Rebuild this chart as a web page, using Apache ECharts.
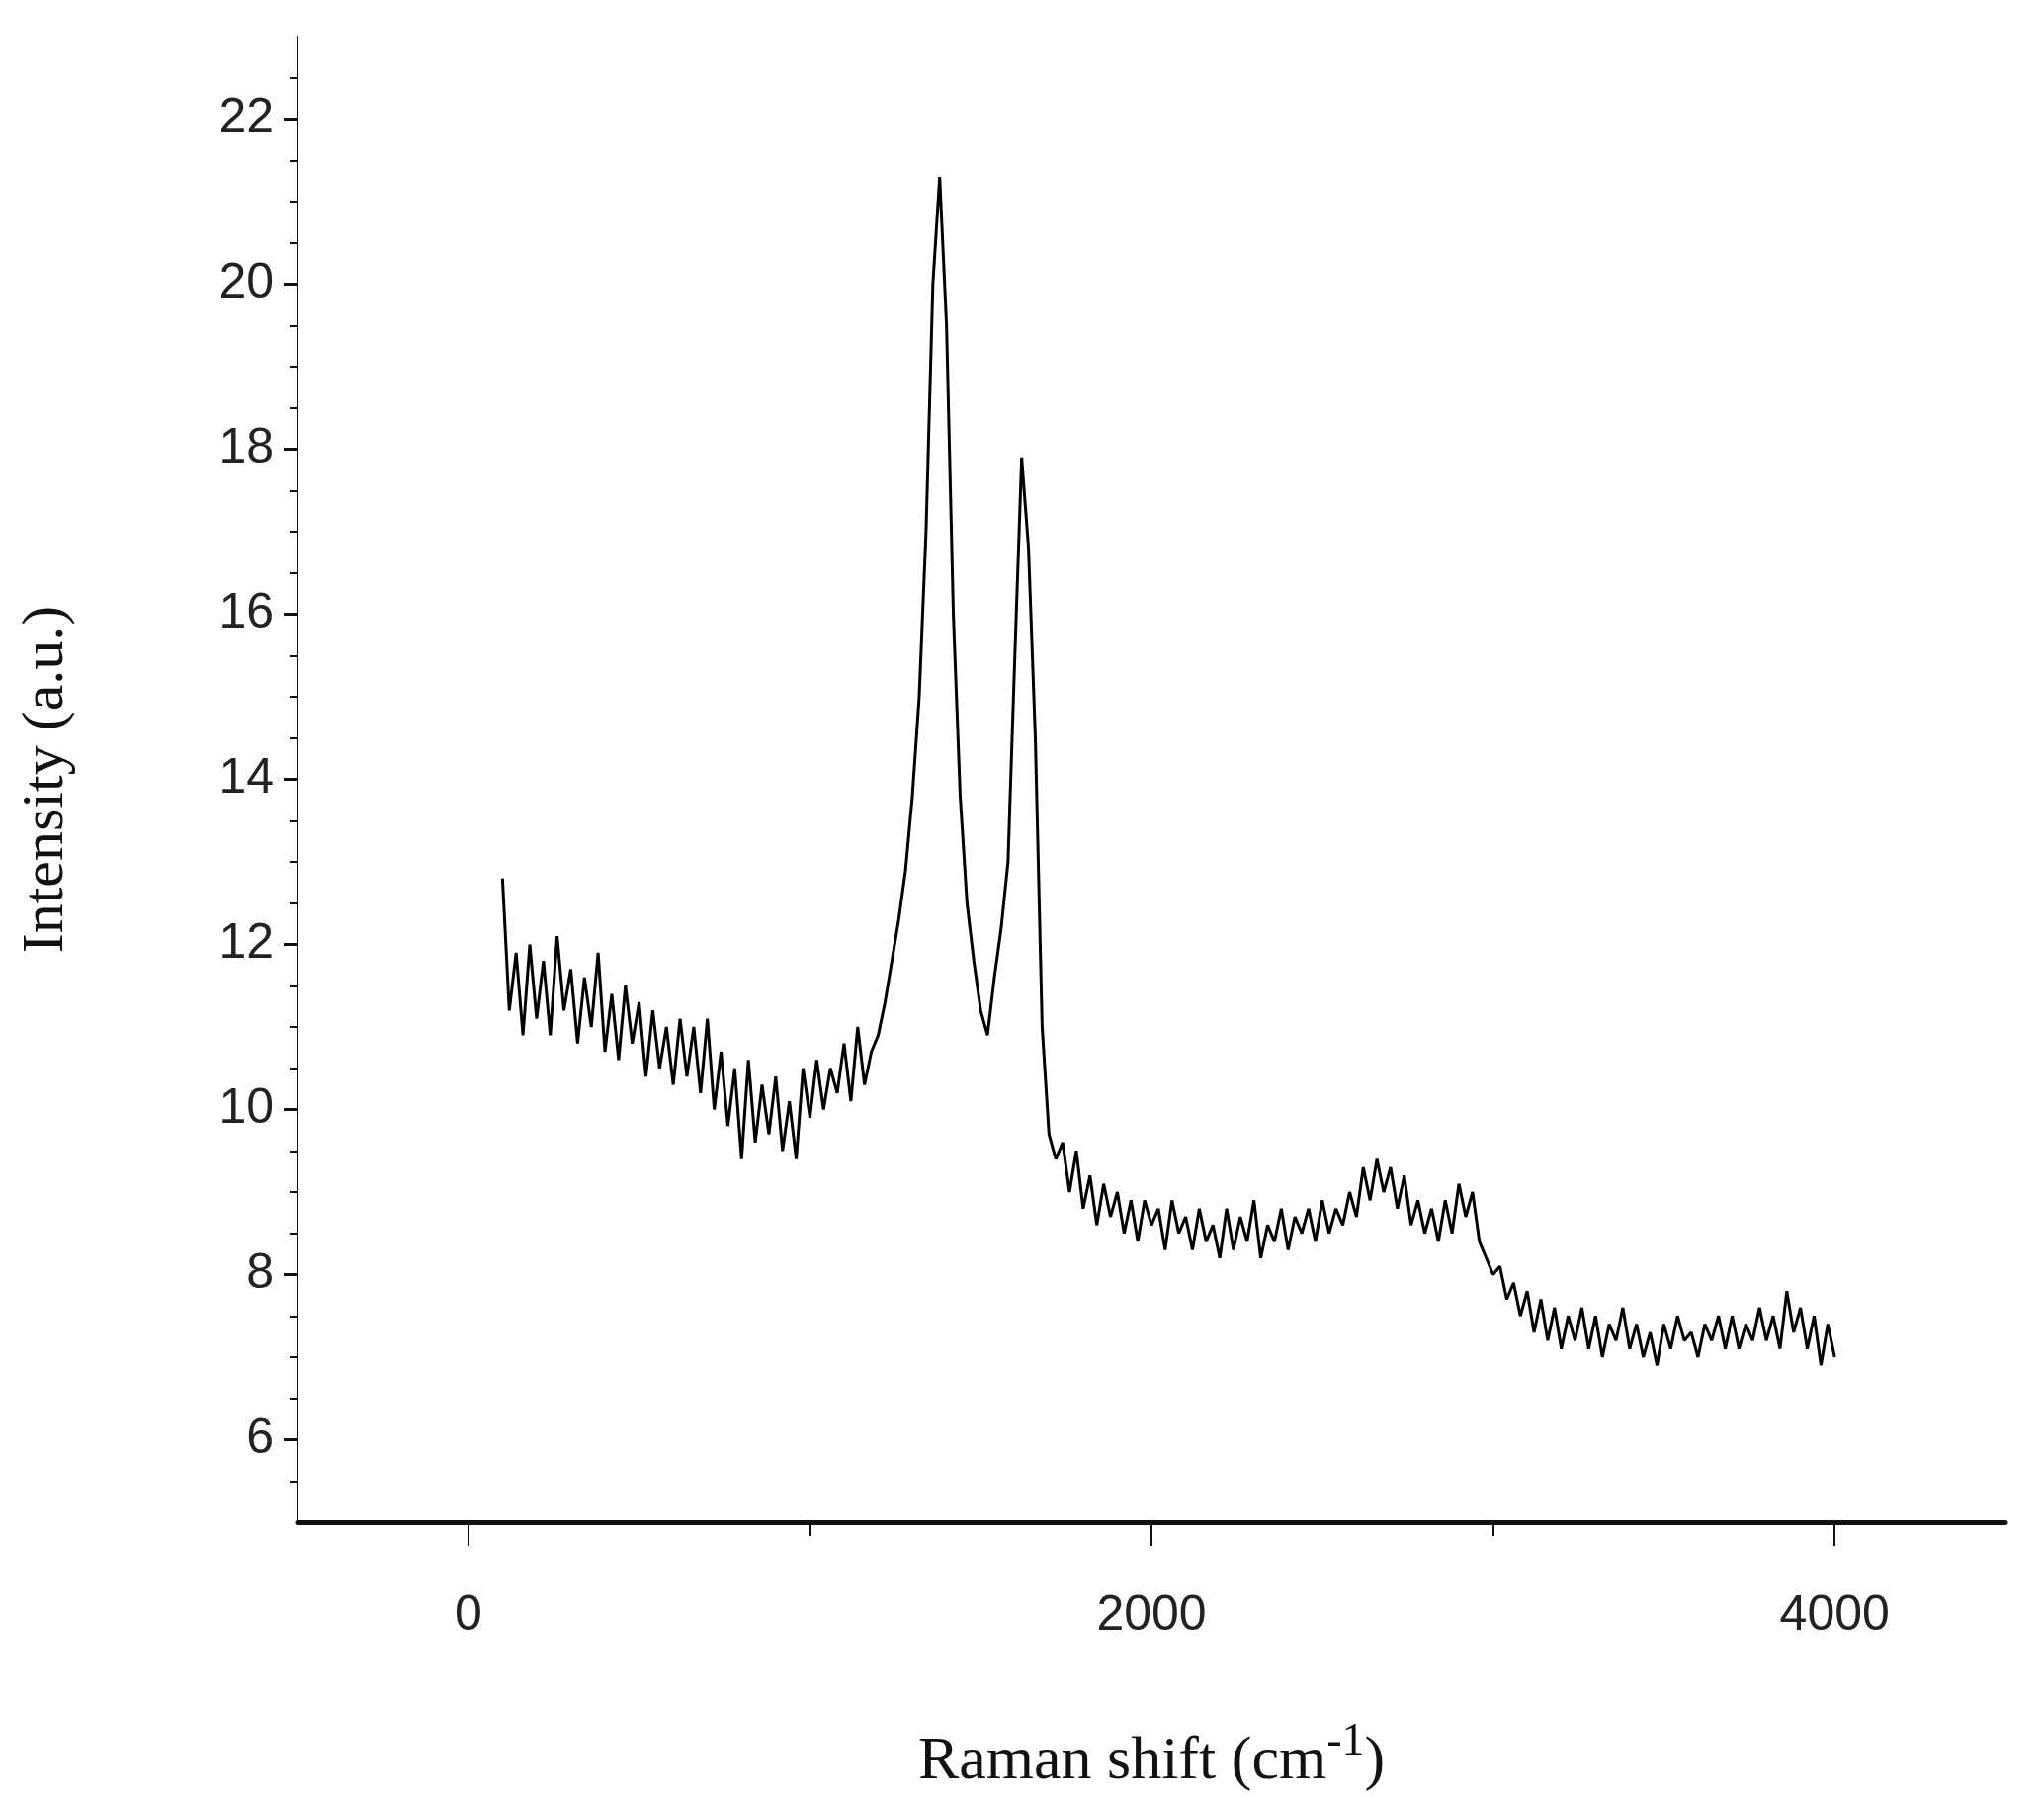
<!DOCTYPE html>
<html>
<head>
<meta charset="utf-8">
<script src="https://cdn.jsdelivr.net/npm/echarts@6/dist/echarts.min.js"></script>
<style>html,body{margin:0;background:#fff}#c{width:2068px;height:1819px}</style>
</head>
<body>
<div id="c"></div>
<script>
// Raman spectrum, sampled every 20 cm-1 from 100 to 4000
const shiftStart = 100;
const shiftStep = 20;
const intensity = [
  12.8,11.2,11.9,10.9,12.0,11.1,11.8,10.9,12.1,11.2,
  11.7,10.8,11.6,11.0,11.9,10.7,11.4,10.6,11.5,10.8,
  11.3,10.4,11.2,10.5,11.0,10.3,11.1,10.4,11.0,10.2,
  11.1,10.0,10.7,9.8,10.5,9.4,10.6,9.6,10.3,9.7,
  10.4,9.5,10.1,9.4,10.5,9.9,10.6,10.0,10.5,10.2,
  10.8,10.1,11.0,10.3,10.7,10.9,11.3,11.8,12.3,12.9,
  13.8,15.0,17.0,20.0,21.3,19.5,16.0,13.8,12.5,11.8,
  11.2,10.9,11.6,12.2,13.0,15.5,17.9,16.8,14.5,11.0,
  9.7,9.4,9.6,9.0,9.5,8.8,9.2,8.6,9.1,8.7,
  9.0,8.5,8.9,8.4,8.9,8.6,8.8,8.3,8.9,8.5,
  8.7,8.3,8.8,8.4,8.6,8.2,8.8,8.3,8.7,8.4,
  8.9,8.2,8.6,8.4,8.8,8.3,8.7,8.5,8.8,8.4,
  8.9,8.5,8.8,8.6,9.0,8.7,9.3,8.9,9.4,9.0,
  9.3,8.8,9.2,8.6,8.9,8.5,8.8,8.4,8.9,8.5,
  9.1,8.7,9.0,8.4,8.2,8.0,8.1,7.7,7.9,7.5,
  7.8,7.3,7.7,7.2,7.6,7.1,7.5,7.2,7.6,7.1,
  7.5,7.0,7.4,7.2,7.6,7.1,7.4,7.0,7.3,6.9,
  7.4,7.1,7.5,7.2,7.3,7.0,7.4,7.2,7.5,7.1,
  7.5,7.1,7.4,7.2,7.6,7.2,7.5,7.1,7.8,7.3,
  7.6,7.1,7.5,6.9,7.4,7.0
];
const xMajorTicks = [0, 2000, 4000];
const xMinorTicks = [1000, 3000];
const yMajorTicks = [6, 8, 10, 12, 14, 16, 18, 20, 22];
const yMinorTicks = [5.5, 6.5, 7, 7.5, 8.5, 9, 9.5, 10.5, 11, 11.5, 12.5, 13, 13.5, 14.5, 15, 15.5,
  16.5, 17, 17.5, 18.5, 19, 19.5, 20.5, 21, 21.5, 22.5];

const data = intensity.map((v, i) => [shiftStart + i * shiftStep, v]);

const labelFont = {color: '#222', fontFamily: 'Liberation Sans', fontSize: 50, formatter: v => String(v)};
const chart = echarts.init(document.getElementById('c'));
chart.setOption({
  animation: false,
  grid: {left: 301, right: 39, top: 37, bottom: 277},
  xAxis: [{
    type: 'value', min: -500, max: 4500,
    axisLine: {onZero: false, lineStyle: {color: '#111', width: 5}},
    axisTick: {customValues: xMajorTicks, length: 24, lineStyle: {color: '#111', width: 2}},
    axisLabel: Object.assign({customValues: xMajorTicks, margin: 70}, labelFont),
    splitLine: {show: false},
    name: '{t|Raman shift (cm}{s|-1}{t|)}',
    nameLocation: 'middle', nameGap: 200,
    nameTextStyle: {rich: {
      t: {fontFamily: 'Liberation Serif', fontSize: 62, color: '#111'},
      s: {fontFamily: 'Liberation Serif', fontSize: 46, color: '#111', verticalAlign: 'top', padding: [0, 0, 40, 0]}
    }}
  }, {
    type: 'value', min: -500, max: 4500, position: 'bottom',
    axisLine: {show: false, onZero: false},
    axisTick: {customValues: xMinorTicks, length: 14, lineStyle: {color: '#111', width: 2}},
    axisLabel: {show: false},
    splitLine: {show: false}
  }],
  yAxis: [{
    type: 'value', min: 5, max: 23, interval: 1,
    axisLine: {show: true, onZero: false, lineStyle: {color: '#111', width: 2}},
    axisTick: {customValues: yMajorTicks, length: 14, lineStyle: {color: '#111', width: 3}},
    axisLabel: Object.assign({customValues: yMajorTicks, margin: 24}, labelFont),
    splitLine: {show: false},
    name: 'Intensity (a.u.)',
    nameLocation: 'middle', nameGap: 224,
    nameTextStyle: {fontFamily: 'Liberation Serif', fontSize: 60, color: '#111'}
  }, {
    type: 'value', min: 5, max: 23, position: 'left',
    axisLine: {show: false, onZero: false},
    axisTick: {customValues: yMinorTicks, length: 8, lineStyle: {color: '#111', width: 2}},
    axisLabel: {show: false},
    splitLine: {show: false}
  }],
  series: [{
    type: 'line', data: data, showSymbol: false,
    lineStyle: {color: '#000', width: 3}
  }]
});
</script>
</body>
</html>
